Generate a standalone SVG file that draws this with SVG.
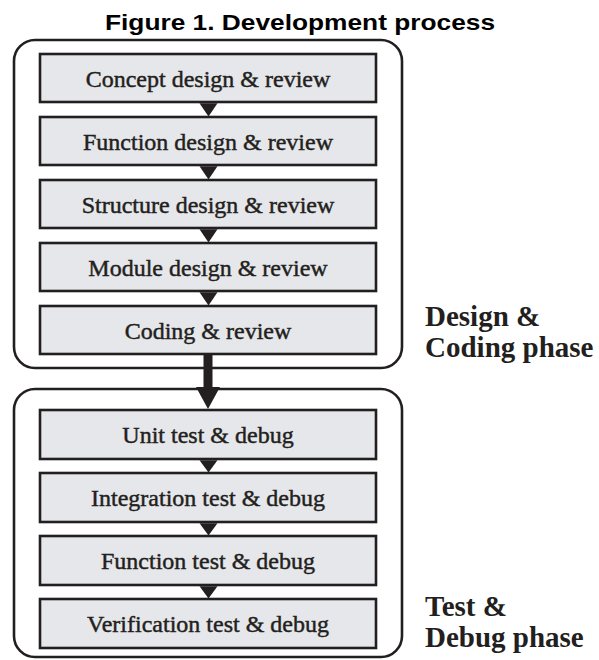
<svg xmlns="http://www.w3.org/2000/svg" width="599" height="660" viewBox="0 0 599 660">
<style>
.phase{fill:none;stroke:#231f20;stroke-width:2.6}
.step{fill:#e6e7ea;stroke:#231f20;stroke-width:2.6}
.lbl{font-family:"Liberation Serif","Times New Roman",serif;font-size:24px;fill:#231f20;stroke:#231f20;stroke-width:0.45;text-anchor:middle}
.side{font-family:"Liberation Serif","Times New Roman",serif;font-size:29px;font-weight:bold;fill:#231f20}
.tri{fill:#231f20}
</style>
<rect width="599" height="660" fill="#ffffff"/>
<text x="300" y="30" font-family="Liberation Sans, Arial, sans-serif" font-size="22" font-weight="bold" fill="#000" text-anchor="middle" textLength="390" lengthAdjust="spacingAndGlyphs">Figure 1. Development process</text>
<g id="phase-design">
<rect class="phase" x="14" y="40" width="388" height="328" rx="21"/>
<text class="side" x="425" y="326">Design &amp;</text>
<text class="side" x="425" y="357">Coding phase</text>
</g>
<g id="phase-test">
<rect class="phase" x="14" y="389" width="388" height="268" rx="21"/>
<text class="side" x="425" y="616">Test &amp;</text>
<text class="side" x="425" y="647">Debug phase</text>
</g>
<g id="concept"><rect class="step" x="40" y="54" width="336" height="48"/><text class="lbl" x="208" y="87">Concept design &amp; review</text></g>
<g id="function"><rect class="step" x="40" y="117" width="336" height="48"/><text class="lbl" x="208" y="150">Function design &amp; review</text></g>
<g id="structure"><rect class="step" x="40" y="180" width="336" height="48"/><text class="lbl" x="208" y="213">Structure design &amp; review</text></g>
<g id="module"><rect class="step" x="40" y="243" width="336" height="48"/><text class="lbl" x="208" y="276">Module design &amp; review</text></g>
<g id="coding"><rect class="step" x="40" y="306" width="336" height="48"/><text class="lbl" x="208" y="339">Coding &amp; review</text></g>
<g id="unit"><rect class="step" x="40" y="410" width="336" height="49"/><text class="lbl" x="208" y="443">Unit test &amp; debug</text></g>
<g id="integration"><rect class="step" x="40" y="473" width="336" height="49"/><text class="lbl" x="208" y="506">Integration test &amp; debug</text></g>
<g id="functiontest"><rect class="step" x="40" y="536" width="336" height="49"/><text class="lbl" x="208" y="569">Function test &amp; debug</text></g>
<g id="verification"><rect class="step" x="40" y="599" width="336" height="49"/><text class="lbl" x="208" y="632">Verification test &amp; debug</text></g>
<g id="connectors">
<polygon class="tri" points="199.5,103.3 217.5,103.3 208.5,116.5"/>
<polygon class="tri" points="199.5,166.3 217.5,166.3 208.5,179.5"/>
<polygon class="tri" points="199.5,229.3 217.5,229.3 208.5,242.5"/>
<polygon class="tri" points="199.5,292.3 217.5,292.3 208.5,305.5"/>
<polygon class="tri" points="203.5,355 212.5,355 212.5,387 220,387 208,409 196,387 203.5,387"/>
<polygon class="tri" points="199.5,460.3 217.5,460.3 208.5,472.5"/>
<polygon class="tri" points="199.5,523.3 217.5,523.3 208.5,535.5"/>
<polygon class="tri" points="199.5,586.3 217.5,586.3 208.5,598.5"/>
</g>
</svg>
